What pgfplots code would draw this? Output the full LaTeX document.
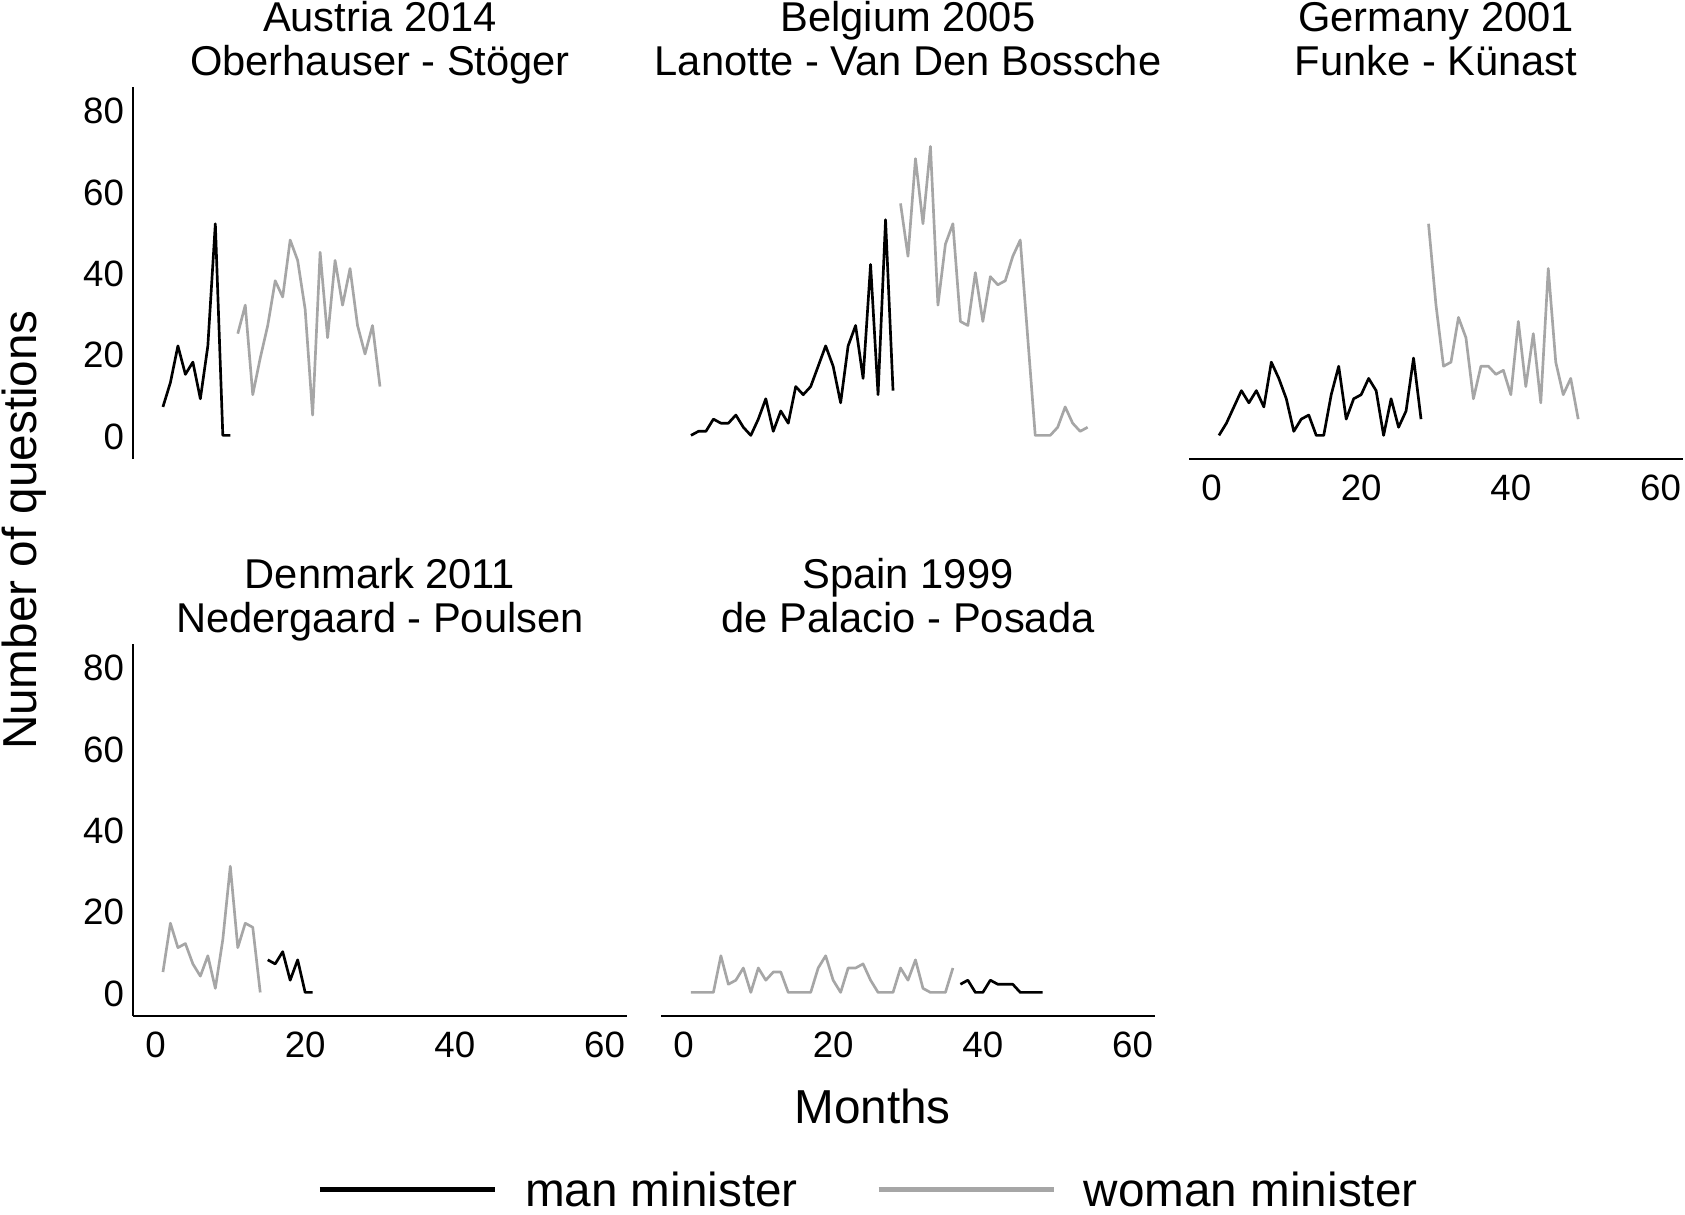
\documentclass[border=0pt]{standalone}
\usepackage{pgfplots}
\pgfplotsset{compat=1.18}
\usepackage{fontspec}
\setmainfont{Liberation Sans}
\definecolor{wgray}{RGB}{166,166,166}
\tikzset{man/.style={black}, woman/.style={wgray}}
\pgfplotsset{
  panel/.style={
    scale only axis, width=148.2pt, height=111.6pt,
    xmin=-3, xmax=63, ymin=-5.8, ymax=85.6,
    xtick={0,20,40,60}, ytick={0,20,40,60,80},
    major tick length=0pt, minor tick num=0,
    axis x line*=bottom, axis y line*=left,
    axis line style={line width=0.5pt, black, -},
    /pgf/number format/assume math mode=true,
    tick label style={font=\fontsize{11}{13}\selectfont},
    yticklabel style={anchor=east, inner sep=0pt, xshift=-2.5pt, yshift=-0.4pt},
    xticklabel style={anchor=north, inner sep=0pt, yshift=-4.6pt},
    clip=false,
    every axis plot/.append style={line width=0.8pt, line join=round, no markers},
  },
}
\begin{document}
\begin{tikzpicture}
\useasboundingbox (0,0) rectangle (505.5pt,-364.2pt);
% Austria
\begin{axis}[panel, at={(39.9pt,-137.7pt)}, anchor=south west, hide x axis]
\addplot[man, forget plot] coordinates {(1,7)(2,13)(3,22)(4,15)(5,18)(6,9)(7,22)(8,52)(9,0)(10,0)};
\addplot[woman, forget plot] coordinates {(11,25)(12,32)(13,10)(14,19)(15,27)(16,38)(17,34)(18,48)(19,43)(20,31)(21,5)(22,45)(23,24)(24,43)(25,32)(26,41)(27,27)(28,20)(29,27)(30,12)};
\end{axis}
% Belgium
\begin{axis}[panel, at={(198.3pt,-137.7pt)}, anchor=south west, hide x axis, hide y axis]
\addplot[man, forget plot] coordinates {(1,0)(2,1)(3,1)(4,4)(5,3)(6,3)(7,5)(8,2)(9,0)(10,4)(11,9)(12,1)(13,6)(14,3)(15,12)(16,10)(17,12)(18,17)(19,22)(20,17)(21,8)(22,22)(23,27)(24,14)(25,42)(26,10)(27,53)(28,11)};
\addplot[woman, forget plot] coordinates {(29,57)(30,44)(31,68)(32,52)(33,71)(34,32)(35,47)(36,52)(37,28)(38,27)(39,40)(40,28)(41,39)(42,37)(43,38)(44,44)(45,48)(46,24)(47,0)(48,0)(49,0)(50,2)(51,7)(52,3)(53,1)(54,2)};
\end{axis}
% Germany
\begin{axis}[panel, at={(356.7pt,-137.7pt)}, anchor=south west, hide y axis]
\addplot[man, forget plot] coordinates {(1,0)(2,3)(3,7)(4,11)(5,8)(6,11)(7,7)(8,18)(9,14)(10,9)(11,1)(12,4)(13,5)(14,0)(15,0)(16,10)(17,17)(18,4)(19,9)(20,10)(21,14)(22,11)(23,0)(24,9)(25,2)(26,6)(27,19)(28,4)};
\addplot[woman, forget plot] coordinates {(29,52)(30,32)(31,17)(32,18)(33,29)(34,24)(35,9)(36,17)(37,17)(38,15)(39,16)(40,10)(41,28)(42,12)(43,25)(44,8)(45,41)(46,18)(47,10)(48,14)(49,4)};
\end{axis}
% Denmark
\begin{axis}[panel, at={(39.9pt,-304.8pt)}, anchor=south west,
  legend columns=2,
  legend image code/.code={\draw[#1] (0pt,0pt) -- (52.5pt,0pt);},
  legend style={at={(0.3725,-0.466)}, anchor=west, draw=none, fill=none, inner sep=0pt,
    font=\fontsize{14.3}{16}\selectfont,
    nodes={inner sep=0pt, text depth=0pt}, cells={anchor=west},
    /tikz/every odd column/.append style={column sep=8.4pt},
    /tikz/every even column/.append style={column sep=23.6pt}}]
\addplot[woman, forget plot] coordinates {(1,5)(2,17)(3,11)(4,12)(5,7)(6,4)(7,9)(8,1)(9,13)(10,31)(11,11)(12,17)(13,16)(14,0)};
\addplot[man, forget plot] coordinates {(15,8)(16,7)(17,10)(18,3)(19,8)(20,0)(21,0)};
\addlegendimage{black, line width=1.3pt}
\addlegendentry{man minister}
\addlegendimage{wgray, line width=1.3pt}
\addlegendentry{woman minister}
\end{axis}
% Spain
\begin{axis}[panel, at={(198.3pt,-304.8pt)}, anchor=south west, hide y axis]
\addplot[woman, forget plot] coordinates {(1,0)(2,0)(3,0)(4,0)(5,9)(6,2)(7,3)(8,6)(9,0)(10,6)(11,3)(12,5)(13,5)(14,0)(15,0)(16,0)(17,0)(18,6)(19,9)(20,3)(21,0)(22,6)(23,6)(24,7)(25,3)(26,0)(27,0)(28,0)(29,6)(30,3)(31,8)(32,1)(33,0)(34,0)(35,0)(36,6)};
\addplot[man, forget plot] coordinates {(37,2)(38,3)(39,0)(40,0)(41,3)(42,2)(43,2)(44,2)(45,0)(46,0)(47,0)(48,0)};
\end{axis}
% titles
\begin{scope}[every node/.style={anchor=base, inner sep=0pt, font=\fontsize{12.5}{14}\selectfont}]
\node at (114pt,-9.3pt) {Austria 2014};
\node at (114pt,-22.5pt) {Oberhauser - Stöger};
\node at (272.4pt,-9.3pt) {Belgium 2005};
\node at (272.4pt,-22.5pt) {Lanotte - Van Den Bossche};
\node at (430.8pt,-9.3pt) {Germany 2001};
\node at (430.8pt,-22.5pt) {Funke - Künast};
\node at (114pt,-176.4pt) {Denmark 2011};
\node at (114pt,-189.6pt) {Nedergaard - Poulsen};
\node at (272.4pt,-176.4pt) {Spain 1999};
\node at (272.4pt,-189.6pt) {de Palacio - Posada};
\end{scope}
\node[anchor=base, inner sep=0pt, font=\fontsize{14.3}{16}\selectfont] at (261.75pt,-336.9pt) {Months};
\node[anchor=base, rotate=90, inner sep=0pt, font=\fontsize{14.3}{16}\selectfont] at (10.95pt,-159pt) {Number of questions};
\end{tikzpicture}
\end{document}
